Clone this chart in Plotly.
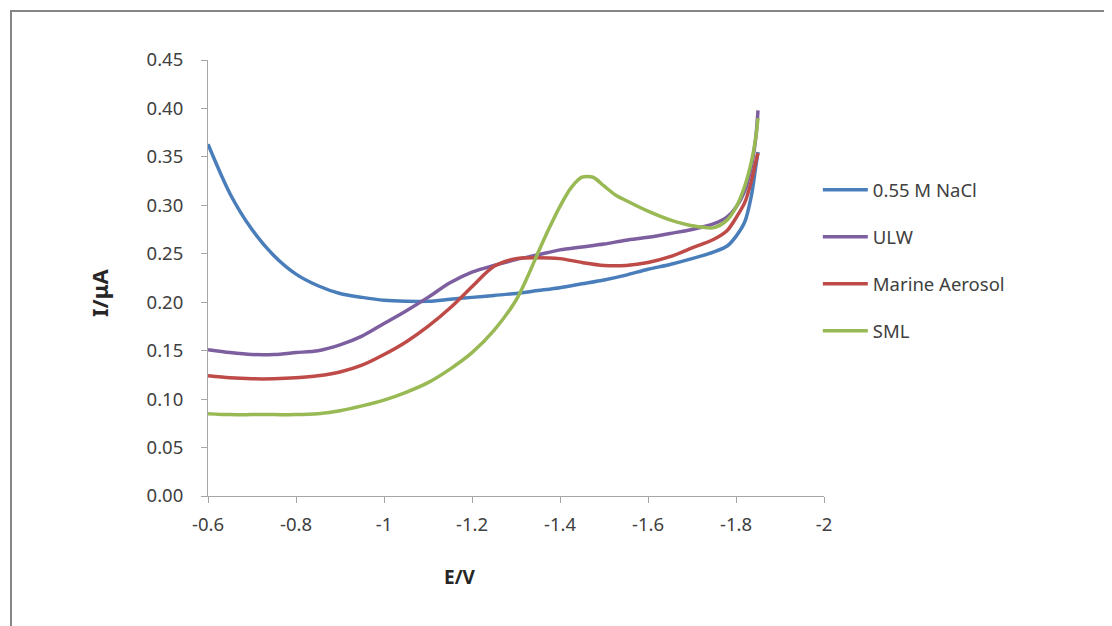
import plotly.graph_objects as go

# ---- data ----
E_nacl = [-0.60, -0.65, -0.70, -0.75, -0.80, -0.85, -0.90, -0.95, -1.00, -1.05, -1.10, -1.15,
          -1.20, -1.25, -1.30, -1.35, -1.40, -1.45, -1.50, -1.55, -1.60, -1.65, -1.70, -1.75,
          -1.78, -1.80, -1.82, -1.835, -1.845, -1.85]
I_nacl = [0.363, 0.312, 0.275, 0.248, 0.229, 0.217, 0.209, 0.205, 0.202, 0.201, 0.201, 0.203,
          0.205, 0.207, 0.209, 0.212, 0.215, 0.219, 0.223, 0.228, 0.234, 0.239, 0.245, 0.252,
          0.258, 0.268, 0.283, 0.310, 0.340, 0.355]

E_ulw = E_nacl
I_ulw = [0.151, 0.148, 0.146, 0.146, 0.148, 0.150, 0.156, 0.165, 0.178, 0.191, 0.205, 0.220,
         0.231, 0.238, 0.244, 0.249, 0.254, 0.257, 0.260, 0.264, 0.267, 0.271, 0.275, 0.281,
         0.288, 0.298, 0.315, 0.340, 0.370, 0.398]

E_aer = E_nacl
I_aer = [0.124, 0.122, 0.121, 0.121, 0.122, 0.124, 0.128, 0.135, 0.146, 0.159, 0.175, 0.194,
         0.216, 0.237, 0.245, 0.246, 0.245, 0.241, 0.238, 0.238, 0.241, 0.247, 0.256, 0.265,
         0.274, 0.287, 0.303, 0.325, 0.345, 0.354]

E_sml = [-0.60, -0.65, -0.70, -0.75, -0.80, -0.85, -0.90, -0.95, -1.00, -1.05, -1.10, -1.15,
         -1.20, -1.25, -1.30, -1.325, -1.35, -1.375, -1.40, -1.425, -1.45, -1.475, -1.50,
         -1.525, -1.55, -1.60, -1.65, -1.70, -1.75, -1.78, -1.80, -1.82, -1.835, -1.845, -1.85]
I_sml = [0.085, 0.084, 0.084, 0.084, 0.084, 0.085, 0.088, 0.093, 0.099, 0.107, 0.117, 0.131,
         0.148, 0.171, 0.202, 0.225, 0.251, 0.276, 0.299, 0.318, 0.329, 0.329, 0.320,
         0.311, 0.305, 0.294, 0.285, 0.279, 0.277, 0.285, 0.298, 0.320, 0.345, 0.370, 0.390]

names = ["0.55 M NaCl", "ULW", "Marine Aerosol", "SML"]
colors = ["#4A7EBB", "#7D5FA0", "#BE4B48", "#98B954"]

x_tickvals = [-0.6, -0.8, -1.0, -1.2, -1.4, -1.6, -1.8, -2.0]
x_ticktext = ["-0.6", "-0.8", "-1", "-1.2", "-1.4", "-1.6", "-1.8", "-2"]
y_tickvals = [0, 0.05, 0.10, 0.15, 0.20, 0.25, 0.30, 0.35, 0.40, 0.45]

series = [(E_nacl, I_nacl), (E_ulw, I_ulw), (E_aer, I_aer), (E_sml, I_sml)]

FONT = "Noto Sans"
TXT = "#404040"

# page has an 8px body margin; plot area wanted at page x 208..824, y 60..496
fig = go.Figure()
for (ex, iy), nm, c in zip(series, names, colors):
    fig.add_trace(go.Scatter(x=ex, y=iy, mode="lines", name=nm, legendgroup=nm,
                             line=dict(color=c, width=3.5, shape="spline", smoothing=0.8)))

fig.update_layout(
    width=1112, height=626,
    margin=dict(l=200, r=296, t=52, b=138),
    paper_bgcolor="white", plot_bgcolor="white",
    font=dict(family=FONT, size=18.5, color=TXT),
    showlegend=True,
    legend=dict(x=0.99, xanchor="left", y=0.745, yanchor="top",
                font=dict(family=FONT, size=18.5, color=TXT),
                tracegroupgap=20, itemwidth=45, bgcolor="rgba(0,0,0,0)"),
    xaxis=dict(range=[-0.6, -2.0], tickvals=x_tickvals, ticktext=x_ticktext,
               showgrid=False, zeroline=False, showline=True, linecolor="#A6A6A6", linewidth=1,
               ticks="outside", ticklen=6, tickcolor="#A6A6A6", ticklabelstandoff=6,
               tickfont=dict(family=FONT, size=18.5, color=TXT)),
    yaxis=dict(range=[0, 0.45], tickvals=y_tickvals, tickformat=".2f",
               showgrid=False, zeroline=False, showline=True, linecolor="#A6A6A6", linewidth=1,
               ticks="outside", ticklen=6, tickcolor="#A6A6A6", ticklabelstandoff=14,
               tickfont=dict(family=FONT, size=18.5, color=TXT)),
    annotations=[
        dict(text="<b>E/V</b>", xref="paper", yref="paper",
             x=(460 - 208) / 616, y=(496 - 577) / 436, showarrow=False,
             xanchor="center", yanchor="middle",
             font=dict(family=FONT, size=19, color="#262626")),
        dict(text="<b>I/μA</b>", xref="paper", yref="paper",
             x=(99 - 208) / 616, y=(496 - 293) / 436, showarrow=False, textangle=-90,
             xanchor="center", yanchor="middle",
             font=dict(family=FONT, size=22, color="#262626")),
    ],
    shapes=[
        dict(type="rect", xref="paper", yref="paper",
             x0=(11 - 208) / 616, x1=(1140 - 208) / 616,
             y0=(496 - 660) / 436, y1=(496 - 11) / 436,
             line=dict(color="#868686", width=2), fillcolor="rgba(0,0,0,0)", layer="below"),
    ],
)

fig.write_html("out.html")
